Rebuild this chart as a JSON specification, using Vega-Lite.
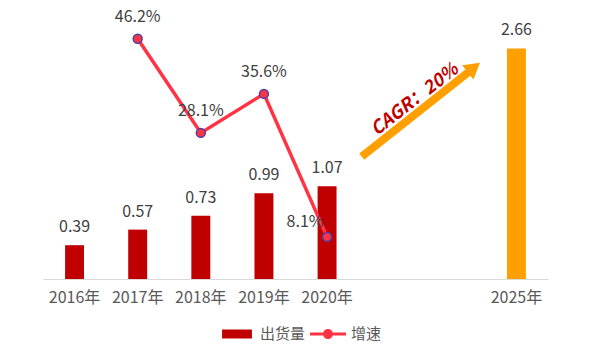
{
  "$schema": "https://vega.github.io/schema/vega-lite/v6.json",
  "width": 505,
  "height": 260,
  "autosize": {"type": "none"},
  "padding": {"left": 43, "top": 19, "right": 52, "bottom": 81},
  "config": {
    "view": {"stroke": null},
    "font": "Noto Sans CJK SC",
    "text": {"font": "Noto Sans CJK SC"}
  },
  "data": {
    "values": [
      {"year": "2016年", "shipment": 0.39, "growth": null},
      {"year": "2017年", "shipment": 0.57, "growth": 0.462},
      {"year": "2018年", "shipment": 0.73, "growth": 0.281},
      {"year": "2019年", "shipment": 0.99, "growth": 0.356},
      {"year": "2020年", "shipment": 1.07, "growth": 0.081},
      {"year": "2025年", "shipment": 2.66, "growth": null}
    ]
  },
  "layer": [
    {
      "encoding": {
        "x": {
          "field": "year",
          "type": "nominal",
          "title": null,
          "sort": null,
          "scale": {
            "domain": ["2016年", "2017年", "2018年", "2019年", "2020年", "gap1", "gap2", "2025年"],
            "paddingInner": 0,
            "paddingOuter": 0
          },
          "axis": {
            "labelExpr": "datum.value == 'gap1' || datum.value == 'gap2' ? '' : datum.value",
            "labelAngle": 0,
            "labelFontSize": 16,
            "labelColor": "#595959",
            "labelPadding": 10,
            "ticks": false,
            "domainColor": "#D9D9D9",
            "domainWidth": 1,
            "grid": false
          }
        },
        "y": {
          "field": "shipment",
          "type": "quantitative",
          "scale": {"domain": [0, 3], "nice": false, "zero": true},
          "axis": null
        }
      },
      "layer": [
        {
          "mark": {"type": "bar", "width": {"band": 0.3}},
          "encoding": {
            "color": {
              "datum": "出货量",
              "type": "nominal",
              "condition": {"test": "datum.year == '2025年'", "value": "#FFA000"},
              "scale": {"domain": ["出货量", "增速"], "range": ["#C00000", "#FF3344"]},
              "legend": {
                "title": null,
                "orient": "none",
                "legendX": 176,
                "legendY": 297,
                "direction": "horizontal",
                "padding": 0,
                "labelFontSize": 15,
                "labelColor": "#595959",
                "labelOffset": 5,
                "columnPadding": 4,
                "symbolSize": 1296,
                "encode": {
                  "symbols": {
                    "update": {
                      "shape": {"signal": "datum.value == '出货量' ? 'M-0.83,-0.25H0.83V0.25H-0.83Z' : 'M-1,-0.09H-0.28V0.09H-1Z M0.28,-0.09H1V0.09H0.28Z M0.28,0A0.28,0.28 0 1 1 -0.28,0A0.28,0.28 0 1 1 0.28,0Z'"},
                      "fill": {"signal": "datum.value == '出货量' ? '#C00000' : '#FF3344'"},
                      "stroke": {"value": "transparent"},
                      "strokeWidth": {"value": 0},
                      "opacity": {"value": 1}
                    }
                  }
                }
              }
            }
          }
        },
        {
          "mark": {"type": "text", "baseline": "alphabetic", "align": "center", "dy": -13, "fontSize": 16, "color": "#404040"},
          "encoding": {
            "text": {"field": "shipment", "type": "quantitative", "format": ".2f"}
          }
        }
      ]
    },
    {
      "transform": [{"filter": "datum.growth != null"}],
      "encoding": {
        "x": {
          "field": "year",
          "type": "nominal",
          "sort": null,
          "scale": {
            "domain": ["2016年", "2017年", "2018年", "2019年", "2020年", "gap1", "gap2", "2025年"],
            "paddingInner": 0,
            "paddingOuter": 0
          },
          "axis": null
        },
        "y": {
          "field": "growth",
          "type": "quantitative",
          "scale": {"domain": [0, 0.5], "nice": false, "zero": true},
          "axis": null
        }
      },
      "layer": [
        {
          "mark": {"type": "line", "strokeWidth": 3.5},
          "encoding": {
            "color": {"datum": "增速", "type": "nominal"}
          }
        },
        {
          "mark": {"type": "point", "filled": true, "size": 80, "fill": "#FF3344", "stroke": "#4B3FA8", "strokeWidth": 1.5, "opacity": 1},
          "encoding": {}
        },
        {
          "transform": [{"filter": "datum.year != '2020年'"}],
          "mark": {"type": "text", "baseline": "alphabetic", "align": "center", "dy": -17, "fontSize": 16, "color": "#404040"},
          "encoding": {
            "text": {"field": "growth", "type": "quantitative", "format": ".1%"}
          }
        },
        {
          "transform": [{"filter": "datum.year == '2020年'"}],
          "mark": {"type": "text", "baseline": "alphabetic", "align": "center", "dy": -10, "dx": -22, "fontSize": 16, "color": "#404040"},
          "encoding": {
            "text": {"field": "growth", "type": "quantitative", "format": ".1%"}
          }
        }
      ]
    },
    {
      "data": {"values": [{}]},
      "layer": [
        {
          "mark": {"type": "rule", "strokeWidth": 8, "color": "#FFA000", "strokeCap": "butt"},
          "encoding": {
            "x": {"datum": 5.049, "type": "quantitative", "scale": {"domain": [0, 8], "nice": false, "zero": false}, "axis": null},
            "y": {"datum": 1.411, "type": "quantitative", "scale": {"domain": [0, 3], "nice": false, "zero": false}, "axis": null},
            "x2": {"datum": 6.78},
            "y2": {"datum": 2.41}
          }
        },
        {
          "mark": {"type": "point", "shape": "triangle-up", "filled": true, "size": 324, "angle": 51.5, "color": "#FFA000", "opacity": 1},
          "encoding": {
            "x": {"datum": 6.826, "type": "quantitative"},
            "y": {"datum": 2.44, "type": "quantitative"}
          }
        },
        {
          "mark": {"type": "text", "text": "CAGR：20%", "angle": 322, "fontSize": 18, "fontWeight": "bold", "fontStyle": "italic", "color": "#C00000", "align": "center", "baseline": "middle"},
          "encoding": {
            "x": {"datum": 5.893, "type": "quantitative"},
            "y": {"datum": 2.065, "type": "quantitative"}
          }
        }
      ]
    }
  ],
  "resolve": {"scale": {"x": "independent", "y": "independent"}}
}
